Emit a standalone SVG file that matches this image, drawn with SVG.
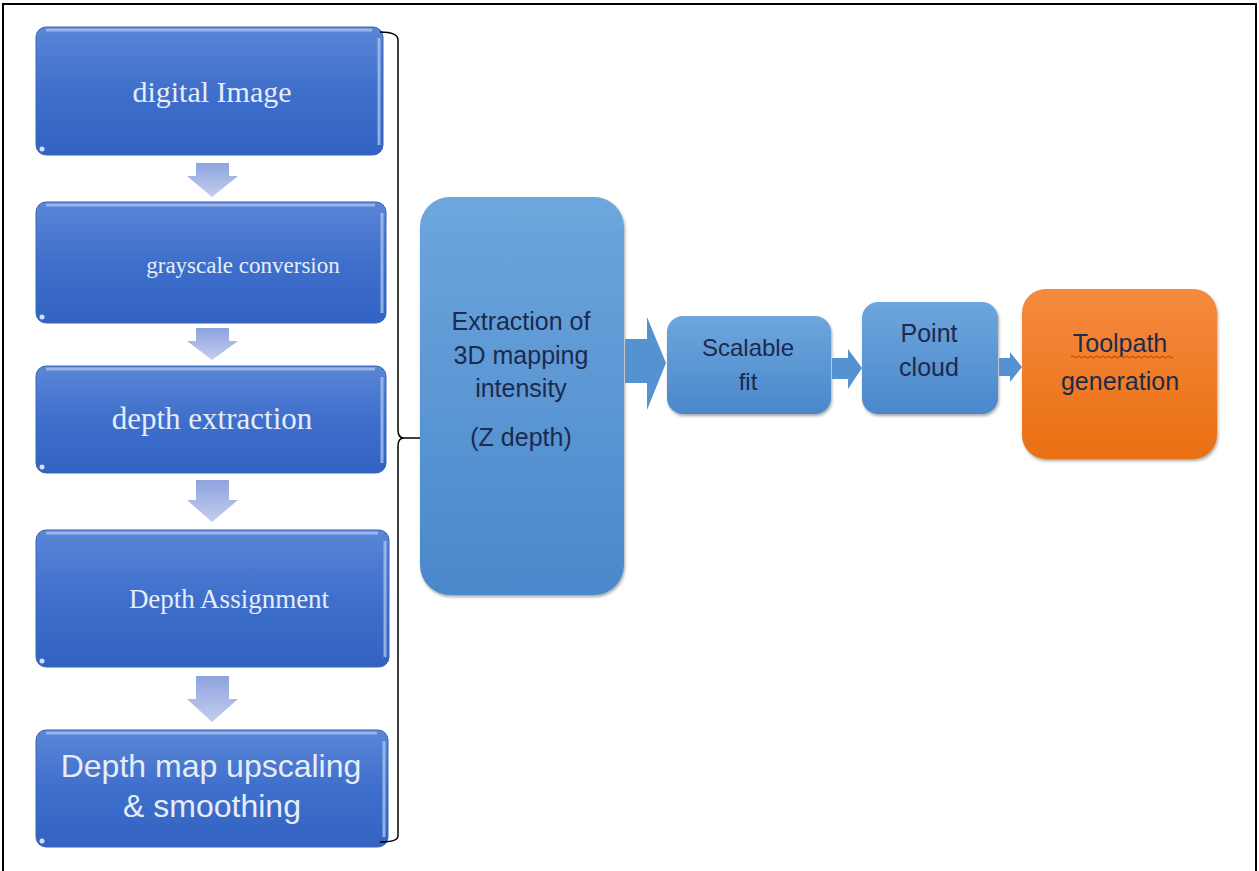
<svg xmlns="http://www.w3.org/2000/svg" width="1259" height="871" viewBox="0 0 1259 871">
<defs>
<linearGradient id="gDark" x1="0" y1="0" x2="0" y2="1">
<stop offset="0" stop-color="#5a86d6"/>
<stop offset="0.5" stop-color="#3f6fcc"/>
<stop offset="1" stop-color="#3263c2"/>
</linearGradient>
<linearGradient id="gLight" x1="0" y1="0" x2="0" y2="1">
<stop offset="0" stop-color="#6ea6dd"/>
<stop offset="1" stop-color="#4a88cb"/>
</linearGradient>
<linearGradient id="gOrange" x1="0" y1="0" x2="0" y2="1">
<stop offset="0" stop-color="#f58a3e"/>
<stop offset="1" stop-color="#ea6f12"/>
</linearGradient>
<linearGradient id="gDown" x1="0" y1="0" x2="0" y2="1">
<stop offset="0" stop-color="#8ea3de"/>
<stop offset="1" stop-color="#c3cdee"/>
</linearGradient>
<filter id="sh" x="-10%" y="-10%" width="120%" height="120%">
<feDropShadow dx="1" dy="2" stdDeviation="1.5" flood-color="#000" flood-opacity="0.35"/>
</filter>
</defs>
<style>
.dark{fill:url(#gDark);stroke:#3a64b8;stroke-width:1}
.light{fill:url(#gLight);filter:url(#sh)}
.orange{fill:url(#gOrange);filter:url(#sh)}
.hl{fill:none;stroke:#a9c2ee;stroke-width:3;opacity:0.8}
.serif{font-family:"Liberation Serif","DejaVu Serif",serif;fill:#e6edf8;text-anchor:middle}
.sans{font-family:"Liberation Sans","DejaVu Sans",sans-serif;text-anchor:middle}
.wt{fill:#e6edf8}
.nv{fill:#1b2a4e;font-size:25px}
.nv2{fill:#1b2a4e;font-size:24px}
.down{fill:url(#gDown)}
.flow{fill:#5492d2}
</style>
<rect x="0" y="0" width="1259" height="871" fill="#ffffff"/>
<path d="M3 871 V4 H1256 V871" fill="none" stroke="#000" stroke-width="2"/>

<g id="node-digital-image">
<rect class="dark" x="36" y="27" width="347" height="128" rx="10"/>
<path class="hl" d="M46 30 H372 M379 38 V145"/>
<circle cx="42" cy="149" r="2.5" fill="#cfe0f8"/>
<text class="serif" x="212" y="102" font-size="30">digital Image</text>
</g>
<g id="node-grayscale">
<rect class="dark" x="36" y="202" width="350" height="121" rx="10"/>
<path class="hl" d="M46 205 H375 M382 213 V313"/>
<circle cx="42" cy="317" r="2.5" fill="#cfe0f8"/>
<text class="serif" x="243" y="273" font-size="23">grayscale conversion</text>
</g>
<g id="node-depth-extraction">
<rect class="dark" x="36" y="366" width="350" height="107" rx="10"/>
<path class="hl" d="M46 369 H375 M382 377 V463"/>
<circle cx="42" cy="467" r="2.5" fill="#cfe0f8"/>
<text class="serif" x="212" y="429" font-size="31">depth extraction</text>
</g>
<g id="node-depth-assignment">
<rect class="dark" x="36" y="530" width="353" height="137" rx="10"/>
<path class="hl" d="M46 533 H378 M385 541 V657"/>
<circle cx="42" cy="661" r="2.5" fill="#cfe0f8"/>
<text class="serif" x="229" y="608" font-size="27">Depth Assignment</text>
</g>
<g id="node-upscaling">
<rect class="dark" x="36" y="730" width="352" height="117" rx="10"/>
<path class="hl" d="M46 733 H377 M384 741 V837"/>
<circle cx="42" cy="841" r="2.5" fill="#cfe0f8"/>
<text class="sans wt" x="211" y="777" font-size="32">Depth map upscaling</text>
<text class="sans wt" x="212" y="817" font-size="32">&amp; smoothing</text>
</g>

<g id="node-extraction">
<rect class="light" x="420" y="197" width="204" height="398" rx="30"/>
<text class="sans nv" x="521" y="330">Extraction of</text>
<text class="sans nv" x="521" y="364">3D mapping</text>
<text class="sans nv" x="521" y="397">intensity</text>
<text class="sans nv" x="521" y="446">(Z depth)</text>
</g>
<g id="node-scalable">
<rect class="light" x="667" y="316" width="164" height="98" rx="16"/>
<text class="sans nv2" x="748" y="356">Scalable</text>
<text class="sans nv2" x="748" y="390">fit</text>
</g>
<g id="node-point-cloud">
<rect class="light" x="862" y="302" width="136" height="112" rx="16"/>
<text class="sans nv" x="929" y="342">Point</text>
<text class="sans nv" x="929" y="376">cloud</text>
</g>
<g id="node-toolpath">
<rect class="orange" x="1022" y="289" width="195" height="170" rx="24"/>
<text class="sans nv" x="1120" y="352">Toolpath</text>
<path d="M1071 357 q1.5 -2 3 0 t3 0 t3 0 t3 0 t3 0 t3 0 t3 0 t3 0 t3 0 t3 0 t3 0 t3 0 t3 0 t3 0 t3 0 t3 0 t3 0 t3 0 t3 0 t3 0 t3 0 t3 0 t3 0 t3 0 t3 0 t3 0 t3 0 t3 0 t3 0 t3 0 t3 0 t3 0 t3 0 t3 0" fill="none" stroke="#d22" stroke-width="1"/>
<text class="sans nv" x="1120" y="390">generation</text>
</g>

<g id="connectors">
<path class="down" d="M196 163 H229 V176 H238 L212 197 L187 176 H196 Z"/>
<path class="down" d="M196 328 H229 V341 H238 L212 360 L187 341 H196 Z"/>
<path class="down" d="M196 480 H229 V500 H238 L212 522 L187 500 H196 Z"/>
<path class="down" d="M196 676 H229 V699 H238 L212 722 L187 699 H196 Z"/>
<path d="M380 32 Q398 32 398 40 V430 Q398 438 404 438 Q398 438 398 446 V836 Q398 842 380 842" fill="none" stroke="#000" stroke-width="1.5"/>
<path d="M404 438 H420" fill="none" stroke="#000" stroke-width="1.5"/>
<path class="flow" d="M625 339 H647 V317 L666 363 L647 410 V383 H625 Z"/>
<path class="flow" d="M832 358 H848 V349 L862 368 L848 389 V379 H832 Z"/>
<path class="flow" d="M999 358 H1010 V352 L1022 367 L1010 382 V376 H999 Z"/>
</g>
</svg>
